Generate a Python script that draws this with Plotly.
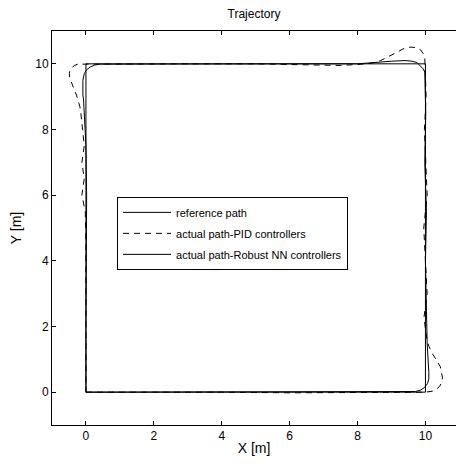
import plotly.graph_objects as go

# Reference path (square)
ref_x = [0, 10, 10, 0, 0]
ref_y = [0, 0, 10, 10, 0]

# Actual path - PID controllers (dashed)
pid_x = [0, 0.3, 2, 4, 6, 8, 9.5, 10.0, 10.2, 10.32, 10.42, 10.48, 10.5, 10.48, 10.44,
         10.33, 10.2, 10.1, 10.05, 10.0, 9.96, 10.05, 10.0, 9.95, 10.05, 10.0, 9.97, 10.02,
         10.0, 10.0, 9.98, 9.93, 9.86, 9.78, 9.7, 9.58, 9.46, 9.31, 9.2, 9.07, 8.88, 8.68,
         8.5, 8.29, 7.5, 6.5, 5, 3, 1, 0.3, 0, -0.24, -0.34, -0.42, -0.47, -0.49, -0.48,
         -0.44, -0.39, -0.34, -0.28, -0.24, -0.18, -0.15, -0.1, -0.05, -0.12, -0.05, -0.12,
         -0.02, 0.0, 0.0, 0.0, 0]
pid_y = [0, 0, 0.02, 0.0, -0.02, 0.0, 0.0, 0.0, 0.03, 0.08, 0.18, 0.3, 0.45, 0.6, 0.77,
         0.97, 1.18, 1.4, 1.58, 1.9, 2.3, 3, 4, 5, 6, 7, 8, 9,
         9.7, 10.0, 10.19, 10.32, 10.42, 10.48, 10.5, 10.51, 10.5, 10.44, 10.37, 10.3, 10.2, 10.1,
         10.04, 10.0, 9.95, 9.97, 10.0, 10.0, 10.0, 10.0, 10.0, 9.99, 9.95, 9.88, 9.8, 9.7, 9.58,
         9.45, 9.32, 9.2, 9.05, 8.9, 8.7, 8.5, 8, 7.5, 7, 6.5, 6,
         5.5, 4.5, 3, 1.5, 0]

# Actual path - Robust NN controllers (solid)
nn_x = [0, 2, 5, 8, 9.5, 9.7, 9.85, 9.97, 10.06, 10.1, 10.1, 10.08, 10.05, 10.03, 10.0,
        10.03, 9.98, 10.01, 10.0, 9.98, 9.93, 9.85, 9.75, 9.6, 9.4, 9.0, 8.6, 8.0, 6, 4, 2,
        0.6, 0.4, 0.25, 0.12, 0.02, -0.05, -0.09, -0.1, -0.09, -0.07, -0.04, 0, 0.02, 0, 0, 0]
nn_y = [0, 0.0, 0.0, 0.0, 0.0, 0.02, 0.06, 0.14, 0.26, 0.4, 0.6, 0.9, 1.5, 2.5, 4,
        5.5, 7, 8.5, 9.6, 9.75, 9.85, 9.95, 10.04, 10.08, 10.1, 10.08, 10.04, 10.0, 10.0, 10.0, 10.0,
        10.0, 9.99, 9.96, 9.9, 9.82, 9.7, 9.5, 9.28, 9.05, 8.9, 8.4, 7.5, 6, 4, 2, 0]

tick_vals = [0, 2, 4, 6, 8, 10]
tick_text = ["0", "2", "4", "6", "8", "10"]

FONT = "Liberation Sans, Arial, sans-serif"

fig = go.Figure()
fig.add_trace(go.Scatter(x=ref_x, y=ref_y, mode="lines", name="reference path",
                         line=dict(color="black", width=1), legendgroup="a"))
fig.add_trace(go.Scatter(x=pid_x, y=pid_y, mode="lines", name="actual path-PID controllers",
                         line=dict(color="black", width=1, dash="6px,5px"), legendgroup="b"))
fig.add_trace(go.Scatter(x=nn_x, y=nn_y, mode="lines", name="actual path-Robust NN controllers",
                         line=dict(color="black", width=1), legendgroup="c"))

fig.update_layout(
    width=456, height=464,
    margin=dict(l=52, r=0, t=31, b=39, autoexpand=False),
    paper_bgcolor="white", plot_bgcolor="white",
    font=dict(family=FONT, size=12, color="black"),
    title=dict(text="Trajectory", x=0.5, xanchor="center", y=1 - 14 / 464, yanchor="middle",
               xref="paper", font=dict(size=12)),
    showlegend=True,
    legend=dict(x=0.161, y=0.579, xanchor="left", yanchor="top",
                bordercolor="black", borderwidth=1, bgcolor="white",
                font=dict(size=11), tracegroupgap=2, traceorder="grouped",
                itemwidth=48),
)
fig.update_xaxes(range=[-1, 10.9], tickvals=tick_vals, ticktext=tick_text,
                 ticks="inside", ticklen=4, tickcolor="black",
                 showline=True, linecolor="black", linewidth=1, mirror="ticks",
                 showgrid=False, zeroline=False, automargin=False,
                 title=dict(text="X [m]", standoff=0))
fig.update_yaxes(range=[-1, 11], tickvals=tick_vals, ticktext=tick_text,
                 ticks="inside", ticklen=4, tickcolor="black",
                 showline=True, linecolor="black", linewidth=1, mirror=False,
                 showgrid=False, zeroline=False, automargin=False,
                 title=dict(text="Y [m]", standoff=10))

fig.write_html("out.html", config={"displayModeBar": False},
               post_script="document.body.style.margin='0';document.body.style.overflow='hidden';")
